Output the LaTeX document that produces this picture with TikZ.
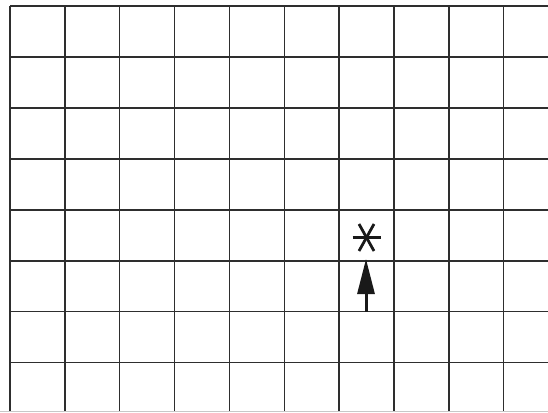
\documentclass[tikz,border=0pt]{standalone}
\usetikzlibrary{arrows.meta}
\definecolor{gridc}{HTML}{2E2E2E}
\definecolor{edgec}{HTML}{C8C8C8}
\begin{document}
\begin{tikzpicture}[x=1pt,y=-1pt,
  gridline/.style={draw=gridc,line width=1.5pt},
  starline/.style={draw=black!90,line width=2.8pt},
  uparrow/.style={draw=black!90,line width=3pt,-{Triangle[width=17pt,length=35pt]}}]
\useasboundingbox[fill=white] (0,0) rectangle (548,412);
% horizontal lines
\foreach \k in {0,...,7}{
  \draw[gridline] (10,{6+50.95*\k}) -- (548,{6+50.95*\k});
}
% vertical lines
\foreach \k in {0,...,9}{
  \draw[gridline] ({10+54.85*\k},6) -- ({10+54.85*\k},412);
}
% faint bottom edge
\draw[edgec,line width=1pt] (0,411.5) -- (548,411.5);
% asterisk
\coordinate (star) at (366.5,237.5);
\draw[starline] ([xshift=-14pt]star) -- ([xshift=14pt]star);
\draw[starline] ([shift={(-7.5pt,13.5pt)}]star) -- ([shift={(7.5pt,-13.5pt)}]star);
\draw[starline] ([shift={(7.5pt,13.5pt)}]star) -- ([shift={(-7.5pt,-13.5pt)}]star);
% arrow
\coordinate (abot) at (366,311.5);
\coordinate (atip) at (366,259);
\draw[uparrow] (abot) -- (atip);
\end{tikzpicture}
\end{document}
